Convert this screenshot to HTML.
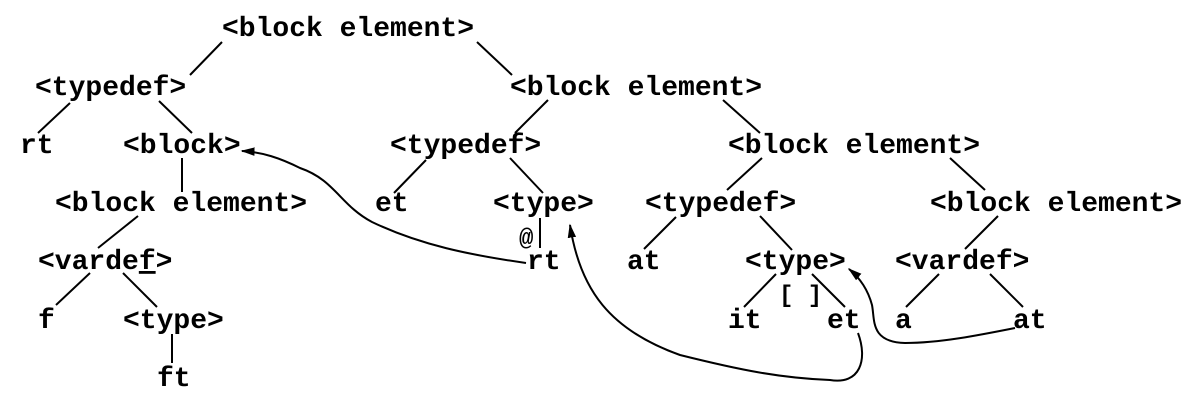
<!DOCTYPE html>
<html><head><style>body{margin:0;background:#fff}svg{display:block}</style></head><body>
<svg width="1200" height="400" viewBox="0 0 1200 400" xmlns="http://www.w3.org/2000/svg">
<defs><marker id="ah" viewBox="0 0 10 10" refX="9" refY="5" markerWidth="7" markerHeight="7" orient="auto"><path d="M0,2 L10,5 L0,8 Z" fill="#000"/></marker></defs>
<g font-family="Liberation Mono, monospace" font-weight="bold" font-size="28" fill="#000">
<text x="222" y="36">&lt;block element&gt;</text>
<text x="35" y="95">&lt;typedef&gt;</text>
<text x="510" y="95">&lt;block element&gt;</text>
<text x="20" y="153">rt</text>
<text x="123" y="153">&lt;block&gt;</text>
<text x="390" y="153">&lt;typedef&gt;</text>
<text x="728" y="153">&lt;block element&gt;</text>
<text x="55" y="211">&lt;block element&gt;</text>
<text x="375" y="211">et</text>
<text x="493" y="211">&lt;type&gt;</text>
<text x="645" y="211">&lt;typedef&gt;</text>
<text x="930" y="211">&lt;block element&gt;</text>
<text x="38" y="269">&lt;varde<tspan text-decoration="underline">f</tspan>&gt;</text>
<text x="527" y="269">rt</text>
<text x="627" y="269">at</text>
<text x="745" y="269">&lt;type&gt;</text>
<text x="895" y="269">&lt;vardef&gt;</text>
<text x="38" y="328">f</text>
<text x="123" y="328">&lt;type&gt;</text>
<text x="728" y="328">it</text>
<text x="827" y="328">et</text>
<text x="895" y="328">a</text>
<text x="1013" y="328">at</text>
<text x="157" y="386">ft</text>
<text x="519" y="245" font-size="24">@</text>
<text x="779" y="302" font-size="24">[ ]</text>
</g>
<g stroke="#000" stroke-width="2" fill="none">
<line x1="222" y1="42" x2="190" y2="75"/>
<line x1="477" y1="42" x2="512" y2="75"/>
<line x1="70" y1="103" x2="38" y2="133"/>
<line x1="159" y1="101" x2="192" y2="133"/>
<line x1="182" y1="158" x2="182" y2="192"/>
<line x1="548" y1="100" x2="515" y2="133"/>
<line x1="723" y1="100" x2="760" y2="133"/>
<line x1="426" y1="160" x2="394" y2="193"/>
<line x1="510" y1="158" x2="543" y2="193"/>
<line x1="762" y1="158" x2="727" y2="190"/>
<line x1="950" y1="158" x2="985" y2="190"/>
<line x1="138" y1="216" x2="98" y2="248"/>
<line x1="540" y1="218" x2="540" y2="248"/>
<line x1="676" y1="217" x2="644" y2="249"/>
<line x1="760" y1="216" x2="792" y2="250"/>
<line x1="998" y1="216" x2="965" y2="249"/>
<line x1="90" y1="273" x2="56" y2="305"/>
<line x1="123" y1="273" x2="157" y2="307"/>
<line x1="776" y1="274" x2="744" y2="307"/>
<line x1="812" y1="274" x2="845" y2="307"/>
<line x1="939" y1="274" x2="906" y2="307"/>
<line x1="990" y1="274" x2="1023" y2="307"/>
<line x1="172" y1="334" x2="172" y2="363"/>
<path d="M526,263 C470,255 420,245 372,222 C340,205 335,180 300,168 C280,158 262,152 242,151" marker-end="url(#ah)"/>
<path d="M858,333 C868,360 860,385 830,380 C780,378 740,370 680,355 C610,330 580,290 570,225" marker-end="url(#ah)"/>
<path d="M1015,328 C980,335 940,343 905,343 C870,342 875,320 872,305 C868,290 860,278 849,269" marker-end="url(#ah)"/>
</g>
</svg>
</body></html>
